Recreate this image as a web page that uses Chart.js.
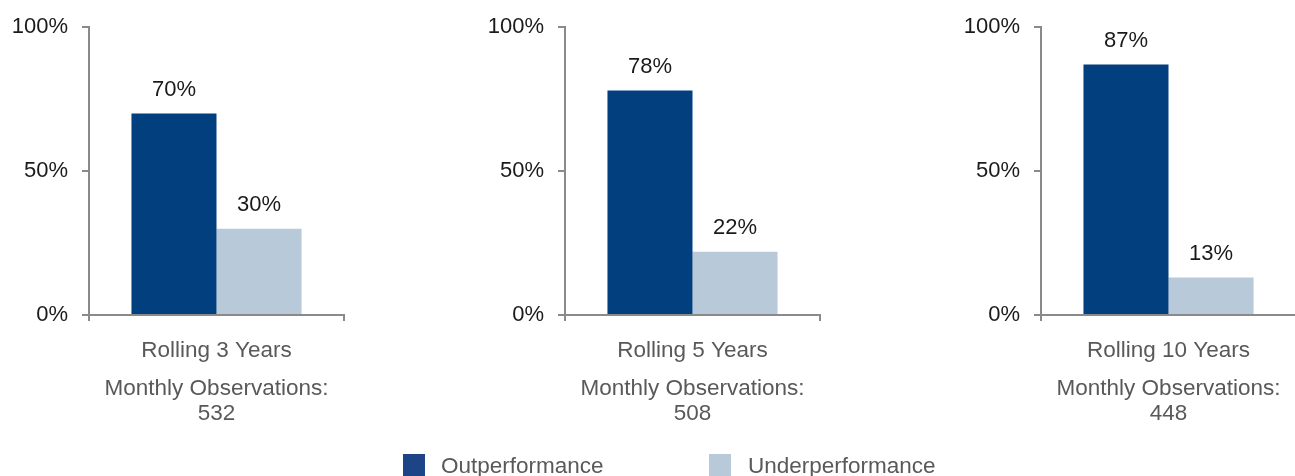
<!DOCTYPE html>
<html>
<head>
<meta charset="utf-8">
<script src="https://cdn.jsdelivr.net/npm/chart.js@4"></script>
<style>
  html, body { margin: 0; padding: 0; background: #fff; overflow: hidden; width: 1295px; height: 476px; }
  .panel { position: absolute; top: 0; width: 345px; height: 476px; }
  .legend { position: absolute; top: 454px; font-family: "Liberation Sans", Arial, sans-serif; font-size: 22.5px; color: #595959; line-height: 26px; }
  .sw { position: absolute; width: 22px; height: 22px; top: 454px; }
</style>
</head>
<body>
<div class="panel" style="left:0px"><canvas id="c0"></canvas></div>
<div class="panel" style="left:476px"><canvas id="c1"></canvas></div>
<div class="panel" style="left:952px"><canvas id="c2"></canvas></div>
<div class="sw" style="left:403px;background:#1E4488"></div>
<div class="legend" style="left:441px;top:453px">Outperformance</div>
<div class="sw" style="left:709px;background:#B8C9DA"></div>
<div class="legend" style="left:748px;top:453px">Underperformance</div>
<script>
const periods = ["Rolling 3 Years", "Rolling 5 Years", "Rolling 10 Years"];
const observations = [532, 508, 448];
const outperformance = [70, 78, 87];
const underperformance = [30, 22, 13];
const seriesNames = ["Outperformance", "Underperformance"];
const yTicks = [0, 50, 100];

const FONT = '"Liberation Sans", Arial, sans-serif';
const AXIS = '#8a8a8a';

const labelPlugin = {
  id: 'barLabels',
  afterDatasetsDraw(chart) {
    const ctx = chart.ctx;
    ctx.save();
    ctx.font = '22px ' + FONT;
    ctx.fillStyle = '#1a1a1a';
    ctx.textAlign = 'center';
    ctx.textBaseline = 'alphabetic';
    chart.data.datasets.forEach((ds, i) => {
      chart.getDatasetMeta(i).data.forEach((el, j) => {
        ctx.fillText(ds.data[j] + '%', el.x, el.y - 18);
      });
    });
    ctx.restore();
  }
};

for (let p = 0; p < periods.length; p++) {
  const canvas = document.getElementById('c' + p);
  canvas.width = 345; canvas.height = 476;
  new Chart(canvas, {
    type: 'bar',
    data: {
      labels: [periods[p]],
      datasets: [
        { label: seriesNames[0], data: [outperformance[p]], backgroundColor: '#023F7E', categoryPercentage: 0.667, barPercentage: 1 },
        { label: seriesNames[1], data: [underperformance[p]], backgroundColor: '#B8C9DA', categoryPercentage: 0.667, barPercentage: 1 }
      ]
    },
    options: {
      responsive: false,
      animation: false,
      devicePixelRatio: 1,
      layout: { padding: { top: 25, right: 1, left: 0, bottom: 0 } },
      plugins: { legend: { display: false }, tooltip: { enabled: false } },
      scales: {
        x: {
          offset: true,
          afterFit(s) { s.height = 161; },
          border: { color: AXIS, width: 2 },
          grid: { drawOnChartArea: false, drawTicks: true, tickLength: 6, color: AXIS, lineWidth: 2, offset: true },
          ticks: { color: '#595959', font: { family: FONT, size: 22.5 }, padding: 16 },
          title: {
            display: true,
            text: ['Monthly Observations:', String(observations[p])],
            color: '#595959',
            font: { family: FONT, size: 22.5, lineHeight: '25px' },
            padding: { top: 0, bottom: 50 }
          }
        },
        y: {
          min: 0, max: 100,
          afterFit(s) { s.width = 89; },
          afterBuildTicks(s) { s.ticks = yTicks.map(v => ({ value: v })); },
          border: { color: AXIS, width: 2 },
          grid: { drawOnChartArea: false, drawTicks: true, tickLength: 7, color: AXIS, lineWidth: 2 },
          ticks: { color: '#1a1a1a', font: { family: FONT, size: 22 }, padding: 14, callback: v => v + '%' }
        }
      }
    },
    plugins: [labelPlugin]
  });
}
</script>
</body>
</html>
